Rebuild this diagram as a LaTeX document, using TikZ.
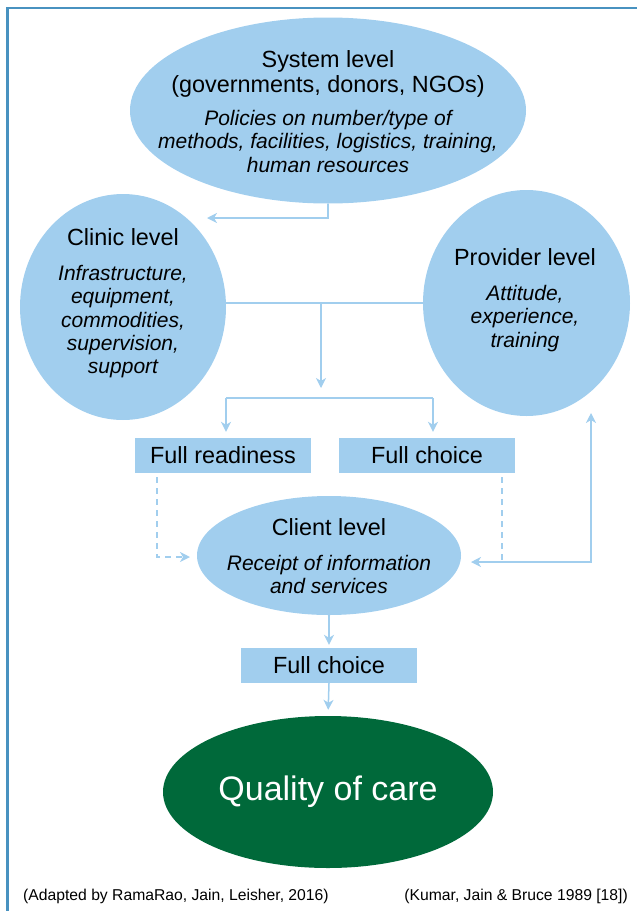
\documentclass[tikz,border=0pt]{standalone}
\usepackage{fontspec}
\setmainfont{Liberation Sans}
\usetikzlibrary{shapes.geometric,arrows.meta}
\definecolor{lb}{RGB}{161,206,238}
\definecolor{dg}{RGB}{0,105,58}
\definecolor{fr}{RGB}{72,146,192}
\begin{document}
\begin{tikzpicture}[x=1pt,y=-1pt,
 ell/.style={ellipse,fill=lb,inner sep=0pt,draw=none},
 box/.style={rectangle,fill=lb,inner sep=0pt,minimum width=176pt,minimum height=35pt,font=\fontsize{23.4}{25}\selectfont},
 ttl/.style={inner sep=0pt,anchor=base,font=\fontsize{23.4}{25}\selectfont},
 itl/.style={inner sep=0pt,anchor=base,font=\fontsize{21}{23}\selectfont\itshape},
 con/.style={draw=lb,line width=1.5pt},
 tip/.tip={Stealth[length=10pt,width=10pt,inset=3pt]},
 arr/.style={con,-tip},
 dsh/.style={con,dash pattern=on 6pt off 5pt},
 capt/.style={inner sep=0pt,font=\fontsize{15.7}{18}\selectfont}]
\useasboundingbox (0,0) rectangle (637,911);
% frame
\draw[fr,line width=2.5pt] (7.5,911) -- (7.5,6.5);
\draw[fr,line width=2pt] (6.25,7.5) -- (637,7.5);

% shapes
\node[ell,minimum width=396pt,minimum height=186pt] (sys) at (328,110.5) {};
\node[ell,minimum width=206pt,minimum height=226pt] (cli) at (123,307) {};
\node[ell,minimum width=207pt,minimum height=226pt] (pro) at (526.5,303) {};
\node[box] (rd) at (223,455.5) {Full readiness};
\node[box] (fc) at (427,455.5) {Full choice};
\node[ell,minimum width=264pt,minimum height=119pt] (cl) at (329,555.5) {};
\node[box] (fc2) at (329,665.5) {Full choice};
\node[ell,fill=dg,text=white,minimum width=330pt,minimum height=152pt,font=\fontsize{34}{38}\selectfont] (q) at (328,792) {Quality of care};

% system texts
\node[ttl] (s1) at (328,67) {System level};
\node[ttl] (s2) at (328,92) {(governments, donors, NGOs)};
\node[itl] (s3) at (328,125) {Policies on number/type of};
\node[itl] (s4) at (328,148) {methods, facilities, logistics, training,};
\node[itl] (s5) at (328,172) {human resources};
% clinic texts
\node[ttl] (k1) at (123,245) {Clinic level};
\node[itl] (k2) at (123,280) {Infrastructure,};
\node[itl] (k3) at (123,303) {equipment,};
\node[itl] (k4) at (123,327) {commodities,};
\node[itl] (k5) at (123,350) {supervision,};
\node[itl] (k6) at (123,373) {support};
% provider texts
\node[ttl] (p1) at (525,265) {Provider level};
\node[itl] (p2) at (525,300) {Attitude,};
\node[itl] (p3) at (525,323) {experience,};
\node[itl] (p4) at (525,347) {training};
% client texts
\node[ttl] (l1) at (329,535) {Client level};
\node[itl] (l2) at (329,570) {Receipt of information};
\node[itl] (l3) at (329,593) {and services};

% captions
\node[capt,anchor=base west] (capl) at (23,900) {(Adapted by RamaRao, Jain, Leisher, 2016)};
\node[capt,anchor=base east] (capr) at (628,900) {(Kumar, Jain \& Bruce 1989 [18])};

% connectors
\coordinate (sysEnd) at (207,218);
\draw[arr] (sys.south) |- (sysEnd);
\draw[con] (pro.west) -- (pro.west -| cli.east);
\coordinate (j1) at (321,303);
\coordinate (j2) at (321,388);
\draw[arr] (j1) -- (j2);
\coordinate (bl) at (226,398);
\coordinate (br) at (433,398);
\draw[con] (bl) -- (br);
\draw[arr,shorten >=6pt] (bl) -- (bl |- rd.north);
\draw[arr,shorten >=6pt] (br) -- (br |- fc.north);
\coordinate (d1) at (157,477);
\coordinate (d2) at (190,557);
\draw[dsh,-tip] (d1) |- (d2);
\coordinate (r2) at (591,413);
\coordinate (r3) at (471,562);
\draw[con,tip-tip] (r2) |- (r3);
\coordinate (d3) at (502,477);
\coordinate (d4) at (502,562);
\draw[dsh] (d3) -- (d4);
\draw[arr,shorten >=3pt] (cl.south) -- (fc2.north);
\draw[arr,shorten >=6pt] (fc2.south) -- (q.north);
\end{tikzpicture}
\end{document}
